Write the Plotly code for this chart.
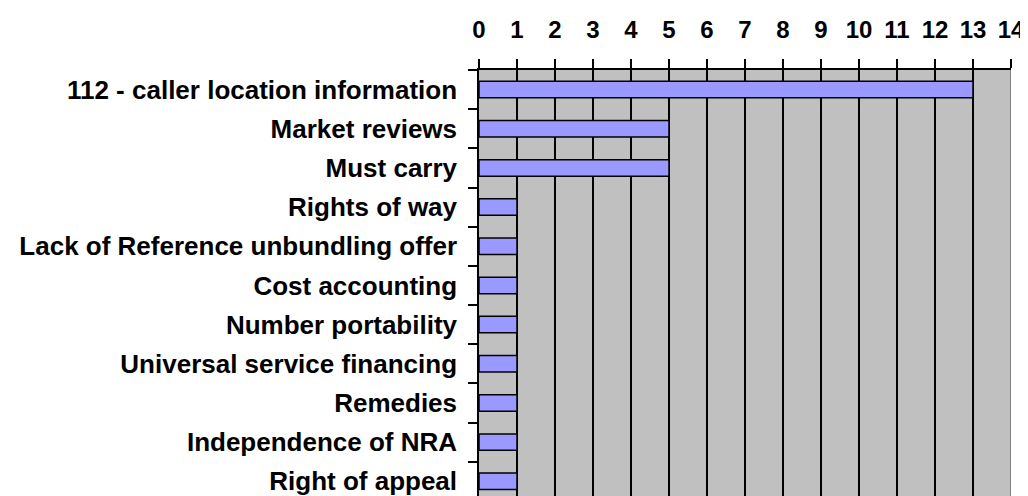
import plotly.graph_objects as go

categories = [
    "112 - caller location information",
    "Market reviews",
    "Must carry",
    "Rights of way",
    "Lack of Reference unbundling offer",
    "Cost accounting",
    "Number portability",
    "Universal service financing",
    "Remedies",
    "Independence of NRA",
    "Right of appeal",
]
values = [13, 5, 5, 1, 1, 1, 1, 1, 1, 1, 1]
x_ticks = list(range(0, 15))

FONT = "Liberation Sans, Arial, sans-serif"

fig = go.Figure(
    go.Bar(
        y=categories,
        x=values,
        orientation="h",
        width=0.42,
        marker=dict(color="#9999FF", line=dict(color="black", width=1.5)),
    )
)

# page body has an 8px default margin, so the figure is offset by 8px
fig.update_layout(
    width=1020,
    height=488,
    margin=dict(l=470.5, r=17.3, t=62, b=0, pad=0),
    paper_bgcolor="white",
    plot_bgcolor="#C0C0C0",
    showlegend=False,
    font=dict(family=FONT, size=26, color="black"),
)

fig.update_xaxes(
    side="top",
    range=[0, 14],
    tickvals=x_ticks,
    ticktext=[f"<b>{t}</b>" for t in x_ticks],
    ticks="outside",
    ticklen=9,
    tickwidth=1.5,
    tickcolor="black",
    showgrid=True,
    gridcolor="black",
    gridwidth=1.5,
    showline=True,
    linecolor="black",
    linewidth=1.5,
    zeroline=False,
    tickfont=dict(family=FONT, size=24, color="black"),
    ticklabelstandoff=12,
    automargin=False,
)

fig.update_yaxes(
    type="category",
    categoryorder="array",
    categoryarray=categories,
    range=[10.376, -0.5],
    tickvals=categories,
    ticktext=[f"<b>{c}</b>" for c in categories],
    tickson="boundaries",
    ticks="outside",
    ticklen=9,
    tickwidth=1.5,
    tickcolor="black",
    showgrid=False,
    showline=True,
    linecolor="black",
    linewidth=1.5,
    zeroline=False,
    tickfont=dict(family=FONT, size=26, color="black"),
    ticklabelstandoff=15,
    automargin=False,
)

fig.add_shape(
    type="line", xref="x", yref="paper", x0=14, x1=14, y0=0, y1=1,
    line=dict(color="#808080", width=2), layer="above",
)

fig.write_html("out.html")
